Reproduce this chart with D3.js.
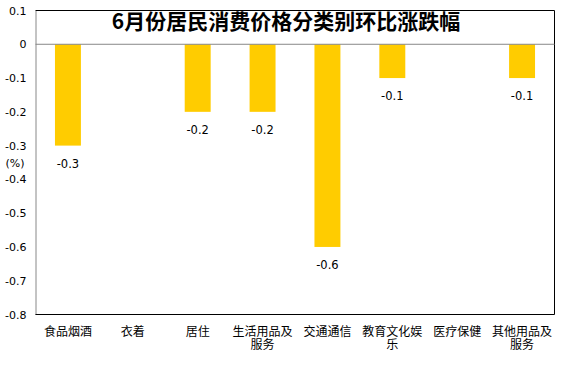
<!DOCTYPE html>
<html>
<head>
<meta charset="utf-8">
<script src="https://cdn.jsdelivr.net/npm/d3@7"></script>
<style>
body { margin: 0; background: #fff; }
text { font-family: "Noto Sans CJK SC", "DejaVu Sans", sans-serif; }
</style>
</head>
<body>
<svg id="chart" width="574" height="374"></svg>
<script>
const categories = ["食品烟酒", "衣着", "居住", "生活用品及服务", "交通通信", "教育文化娱乐", "医疗保健", "其他用品及服务"];
const catLines = [["食品烟酒"], ["衣着"], ["居住"], ["生活用品及", "服务"], ["交通通信"], ["教育文化娱", "乐"], ["医疗保健"], ["其他用品及", "服务"]];
const values = [-0.3, 0, -0.2, -0.2, -0.6, -0.1, 0, -0.1];
const yTicks = [0.1, 0, -0.1, -0.2, -0.3, -0.4, -0.5, -0.6, -0.7, -0.8];

const svg = d3.select("#chart");
const pLeft = 35.5, pRight = 554.5, pTop = 10.5, pBottom = 314.5;

const rows = categories.map((c, i) => ({ cat: c, lines: catLines[i], value: values[i] }));
const fmt = v => v === 0 ? "0" : v.toFixed(1);

const x = d3.scaleBand().domain(categories).range([pLeft, pRight]).paddingInner(0.6).paddingOuter(0.3);
const y = d3.scaleLinear().domain([-0.8, 0.1]).range([pBottom, pTop]);

// frame top/right
svg.append("path")
  .attr("d", `M${pLeft},${pTop}H${pRight}V${pBottom}`)
  .attr("fill", "none").attr("stroke", "#000").attr("stroke-width", 1);

// bars
svg.selectAll("rect.bar").data(rows).enter().append("rect")
  .attr("class", "bar")
  .attr("x", d => x(d.cat))
  .attr("width", x.bandwidth())
  .attr("y", y(0))
  .attr("height", d => y(d.value) - y(0))
  .attr("fill", "#FFCC00");

// zero line
svg.append("line")
  .attr("x1", pLeft).attr("x2", pRight)
  .attr("y1", y(0)).attr("y2", y(0))
  .attr("stroke", "#888").attr("stroke-width", 1);

// left axis
const yAxis = svg.append("g")
  .attr("transform", `translate(${pLeft},0)`)
  .call(d3.axisLeft(y).tickValues(yTicks).tickSize(0).tickPadding(9).tickFormat(fmt));
yAxis.select(".domain").attr("stroke", "#888");
yAxis.selectAll("text").attr("font-size", 11).attr("fill", "#000")
  .style("font-family", "'DejaVu Sans', sans-serif");

// bottom axis line
svg.append("line")
  .attr("x1", pLeft).attr("x2", pRight)
  .attr("y1", pBottom).attr("y2", pBottom)
  .attr("stroke", "#000").attr("stroke-width", 1.2);

// (%) label
svg.append("text").attr("x", 15).attr("y", 167)
  .attr("text-anchor", "middle").attr("font-size", 11)
  .style("font-family", "'DejaVu Sans', sans-serif")
  .text("(%)");

// value labels
svg.selectAll("text.val").data(rows.filter(d => d.value !== 0)).enter().append("text")
  .attr("class", "val")
  .attr("x", d => x(d.cat) + x.bandwidth() / 2)
  .attr("y", d => y(d.value) + 22)
  .attr("text-anchor", "middle")
  .attr("font-size", 11.5)
  .style("font-family", "'DejaVu Sans', sans-serif")
  .text(d => fmt(d.value));

// category labels, one text per line
const catItems = rows.flatMap(d => d.lines.map((l, j) => ({ l, j, cx: x(d.cat) + x.bandwidth() / 2 })));
svg.selectAll("text.cat").data(catItems).enter().append("text")
  .attr("class", "cat")
  .attr("x", d => d.cx)
  .attr("y", d => 336 + d.j * 13)
  .attr("text-anchor", "middle")
  .attr("font-size", 12)
  .text(d => d.l);

// title
svg.append("text")
  .attr("x", 286).attr("y", 29)
  .attr("text-anchor", "middle")
  .attr("font-size", 21).attr("font-weight", "bold")
  .text("6月份居民消费价格分类别环比涨跌幅");
</script>
</body>
</html>
